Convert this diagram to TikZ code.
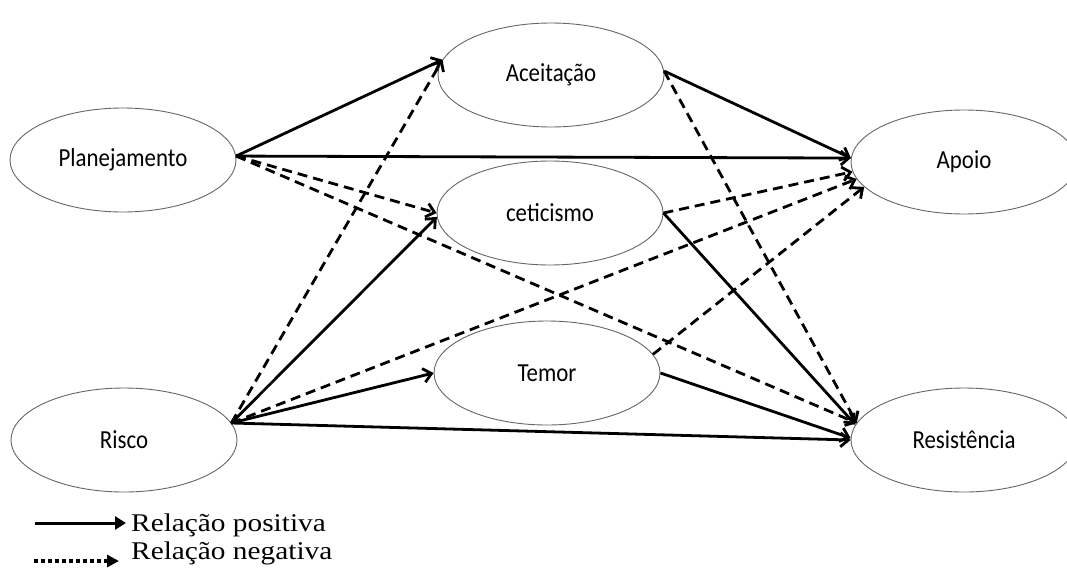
\documentclass[tikz,border=0pt]{standalone}
\usepackage{fontspec}
\setmainfont{Liberation Serif}
\newfontfamily\constructfont{Carlito}
\usetikzlibrary{shapes.geometric,arrows.meta}
% slightly condensed construct labels
\newcommand\condensed[1]{\scalebox{0.88}[1]{#1}}
% slightly widened legend labels
\newcommand\widened[1]{\scalebox{1.15}[1]{#1}}
\begin{document}
\begin{tikzpicture}[x=1pt,y=-1pt,
  construct/.style={ellipse,draw=black!60,line width=0.9pt,
    minimum width=226pt,minimum height=104pt,inner sep=0pt,
    font=\constructfont\fontsize{26}{30}\selectfont},
  relarrow/.style={line width=2.8pt,line join=miter,
    -{Straight Barb[length=8pt,width=14pt]}},
  posrel/.style={relarrow},
  negrel/.style={relarrow,dash pattern=on 10pt off 6pt},
  legendtext/.style={anchor=base west,inner sep=0pt,
    font=\fontsize{25.5}{30}\selectfont},
]
\useasboundingbox (0,0) rectangle (1067,570);
\clip (0,0) rectangle (1067,570);

% constructs
\node[construct] (plan)  at (123,160) {\condensed{Planejamento}};
\node[construct] (risco) at (124,440) {\condensed{Risco}};
\node[construct] (acc)   at (551,75)  {\condensed{Aceitação}};
\node[construct] (cet)   at (550,213) {\condensed{ceticismo}};
\node[construct] (tem)   at (547,373) {\condensed{Temor}};
\node[construct] (apo)   at (964,162) {\condensed{Apoio}};
\node[construct] (res)   at (964,440) {\condensed{Resistência}};

% relations from Planejamento
\draw[posrel] (plan.2) -- (acc.172);
\draw[posrel] (plan.2) -- (apo.178);
\draw[negrel] (plan.2) -- (cet.west);
\draw[negrel] (plan.2) -- (res.171);

% relations from Risco
\draw[negrel] (risco.9) -- (acc.172);
\draw[posrel] (risco.9) -- (cet.182);
\draw[negrel] (risco.9) -- (apo.189);
\draw[posrel] (risco.9) -- (tem.west);
\draw[posrel] (risco.9) -- (res.180);

% relations from the mediators
\draw[posrel] (acc.2) -- (apo.178);
\draw[negrel] (acc.2) -- (res.171);
\draw[negrel] (cet.east) -- (apo.185);
\draw[posrel] (cet.east) -- (res.172);
\draw[negrel] (tem.10) -- (apo.194);
\draw[posrel] (tem.east) -- (res.179);

% legend
\coordinate (lpa) at (35,523);
\coordinate (lpb) at (126,523);
\coordinate (lna) at (34,561);
\coordinate (lnb) at (119,561);
\draw[line width=3pt,-{Triangle[length=11pt,width=13pt]}] (lpa) -- (lpb);
\draw[line width=4pt,dash pattern=on 4pt off 3pt,
  -{Triangle[length=12pt,width=12pt]}] (lna) -- (lnb);
\node[legendtext] (lpos) at (131,531) {\widened{Relação positiva}};
\node[legendtext] (lneg) at (131,559) {\widened{Relação negativa}};
\end{tikzpicture}
\end{document}
